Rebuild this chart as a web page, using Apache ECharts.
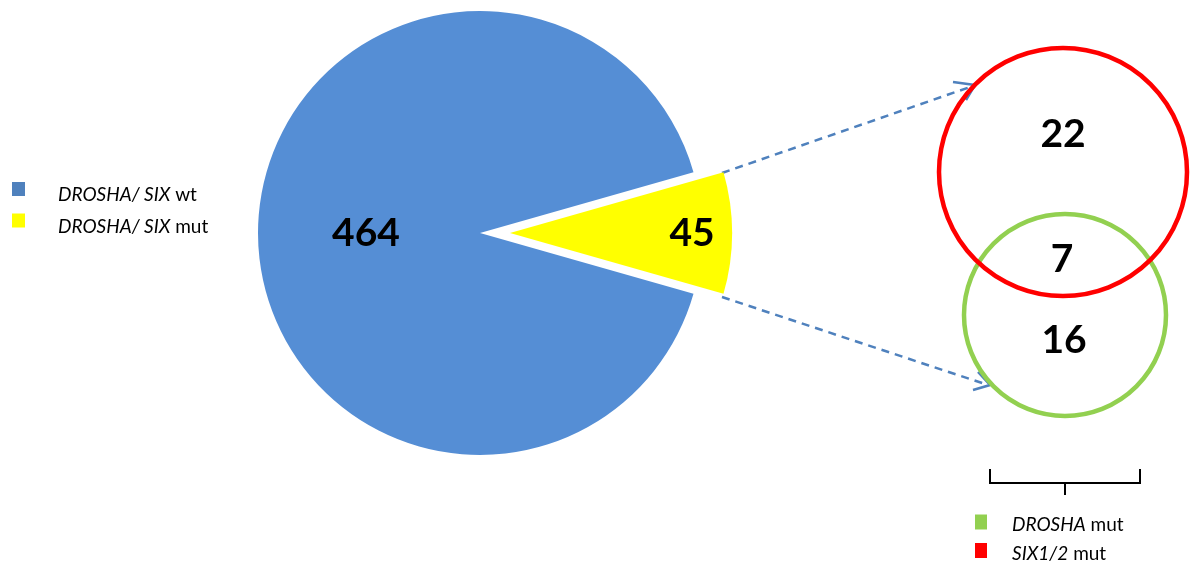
<!DOCTYPE html>
<html>
<head>
<meta charset="utf-8">
<script src="https://cdn.jsdelivr.net/npm/echarts@6/dist/echarts.min.js"></script>
<style>html,body{margin:0;padding:0;background:#fff}#c{width:1190px;height:566px}</style>
</head>
<body>
<div id="c"></div>
<script>
// Data
const pieCategories = ['DROSHA/ SIX mut', 'DROSHA/ SIX wt'];
const pieValues = [45, 464];
const vennSets = ['DROSHA mut', 'SIX1/2 mut'];
const vennCounts = { six_only: 22, both: 7, drosha_only: 16 };

const FONT = 'Lato, "Open Sans", "Liberation Sans", sans-serif';
const BLUE = '#558ED5', YELLOW = '#FFFF00', GREEN = '#92D050', RED = '#FF0000';
const ARROW = '#4F81BD';

const total = pieValues.reduce((a, b) => a + b, 0);
const mutAngle = pieValues[0] / total * 360;

const chart = echarts.init(document.getElementById('c'), null, { renderer: 'canvas' });

function legendFmt(name) {
  const idx = name.lastIndexOf(' ');
  return '{i|' + name.slice(0, idx) + '}{n|' + name.slice(idx) + '}';
}
const legendRich = {
  i: { fontStyle: 'italic', fontFamily: FONT, fontSize: 19, lineHeight: 16, color: '#000' },
  n: { fontFamily: FONT, fontSize: 19, lineHeight: 16, color: '#000' }
};

const pieColors = [YELLOW, BLUE];
const numFont = 'bold 39px ' + FONT;

chart.setOption({
  animation: false,
  backgroundColor: '#fff',
  grid: { left: 0, top: 0, width: 10, height: 10, show: false },
  xAxis: { type: 'value', show: false },
  yAxis: { type: 'value', show: false },
  legend: [
    {
      data: [
        { name: pieCategories[1], itemStyle: { color: '#4F81BD', borderWidth: 0 } },
        { name: pieCategories[0], itemStyle: { color: YELLOW, borderWidth: 0 } }
      ],
      orient: 'vertical', left: 12, top: 175, padding: 0,
      icon: 'rect', itemWidth: 13, itemHeight: 14, itemGap: 2,
      selectedMode: false,
      formatter: legendFmt,
      textStyle: { padding: [12, 0, 0, 28], lineHeight: 16, rich: legendRich }
    },
    {
      data: [
        { name: vennSets[0], itemStyle: { color: GREEN, borderWidth: 0, opacity: 1 } },
        { name: vennSets[1], itemStyle: { color: RED, borderWidth: 0, opacity: 1 } }
      ],
      orient: 'vertical', left: 975, top: 511, padding: 0,
      icon: 'rect', itemWidth: 12, itemHeight: 15, itemGap: 5,
      selectedMode: false,
      formatter: legendFmt,
      textStyle: { padding: [6, 0, 0, 20], lineHeight: 16, rich: legendRich }
    }
  ],
  series: [
    {
      type: 'pie',
      center: [480, 233],
      radius: 222,
      startAngle: mutAngle / 2,
      clockwise: true,
      selectedMode: 'single',
      selectedOffset: 30,
      avoidLabelOverlap: false,
      emphasis: { disabled: true },
      labelLine: { show: false },
      label: {
        show: true, position: 'inside', formatter: '{c}',
        fontFamily: FONT, fontSize: 39, fontWeight: 'bold', color: '#000',
        padding: [6, 0, 0, 0]
      },
      data: pieCategories.map((n, i) => ({
        name: n, value: pieValues[i], selected: i === 0,
        itemStyle: { color: pieColors[i] },
        label: i === 0 ? { padding: [6, 0, 0, 136] } : {}
      }))
    },
    { type: 'scatter', name: vennSets[0], data: [], itemStyle: { color: GREEN, opacity: 1 } },
    { type: 'scatter', name: vennSets[1], data: [], itemStyle: { color: RED, opacity: 1 } }
  ],
  graphic: [
    // dashed connectors
    { type: 'line', shape: { x1: 722, y1: 173, x2: 973, y2: 86 }, style: { stroke: ARROW, lineWidth: 2.5, lineDash: [8, 6] } },
    { type: 'polyline', shape: { points: [[953, 82], [975, 85], [966, 100]] }, style: { stroke: ARROW, lineWidth: 2.5, fill: null } },
    { type: 'line', shape: { x1: 722, y1: 297, x2: 988, y2: 385 }, style: { stroke: ARROW, lineWidth: 2.5, lineDash: [8, 6] } },
    { type: 'polyline', shape: { points: [[978, 372], [990, 385], [973, 390]] }, style: { stroke: ARROW, lineWidth: 2.5, fill: null } },
    // venn circles
    { type: 'circle', shape: { cx: 1065, cy: 315, r: 101 }, style: { stroke: GREEN, lineWidth: 4.5, fill: null } },
    { type: 'circle', shape: { cx: 1063, cy: 172, r: 124 }, style: { stroke: RED, lineWidth: 4.5, fill: null } },
    // venn counts
    { type: 'text', x: 1063, y: 134, style: { text: String(vennCounts.six_only), align: 'center', verticalAlign: 'middle', font: numFont, fill: '#000' } },
    { type: 'text', x: 1062, y: 259, style: { text: String(vennCounts.both), align: 'center', verticalAlign: 'middle', font: numFont, fill: '#000' } },
    { type: 'text', x: 1064, y: 340, style: { text: String(vennCounts.drosha_only), align: 'center', verticalAlign: 'middle', font: numFont, fill: '#000' } },
    // bracket
    { type: 'polyline', shape: { points: [[990, 469], [990, 483], [1140, 483], [1140, 469]] }, style: { stroke: '#000', lineWidth: 2, fill: null } },
    { type: 'line', shape: { x1: 1065, y1: 483, x2: 1065, y2: 495 }, style: { stroke: '#000', lineWidth: 2 } }
  ]
});
</script>
</body>
</html>
